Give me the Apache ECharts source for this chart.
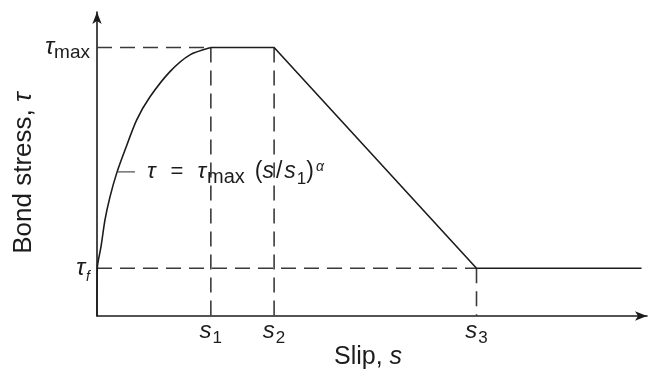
<!DOCTYPE html>
<html>
<head>
<meta charset="utf-8">
<script src="https://cdn.jsdelivr.net/npm/echarts@6/dist/echarts.min.js"></script>
<style>
  html, body { margin: 0; padding: 0; background: #fff; }
  #chart { width: 648px; height: 371px; }
</style>
</head>
<body>
<div id="chart"></div>
<script>
// Characteristic slip values (arbitrary slip units) and bond stresses
const slipPoints = { s1: 20.7, s2: 32.2, s3: 69.0 };
const slipEnd = 99;
const tauMax = 88.3;
const tauF = 15.7;

// Ascending branch tau = tau_max (s/s1)^alpha, sampled along the curve
const ascendingS   = [0, 0.05, 0.73, 1.45, 2.36, 3.58, 5.09, 7.22, 9.64, 13.27, 16.9, 20.7];
const ascendingTau = [0, 15.7, 22.8, 31.6, 39.2, 47.0, 54.6, 64.5, 72.1, 80.4, 85.9, 88.3];

// Plateau, softening branch and residual friction branch
const branchS   = [slipPoints.s1, slipPoints.s2, slipPoints.s3, slipEnd];
const branchTau = [tauMax, tauMax, tauF, tauF];

// Tick labels
const xTickValues = [slipPoints.s1, slipPoints.s2, slipPoints.s3];
const xTickLabels = ['{i|s}{sub|1}', '{i|s}{sub|2}', '{i|s}{sub|3}'];
const yTickValues = [tauF, tauMax];
const yTickLabels = ['{t|τ}{f|f}', '{t|τ}{m|max}'];

// Leader line to the formula
const leaderS = [3.8, 6.9];
const leaderTau = [47.4, 47.4];

const FONT = '"Liberation Sans", Arial, Helvetica, sans-serif';
const INK = '#1c1c1c';
const DASH = '#3a3a3a';

const zip = (a, b) => a.map((v, i) => [v, b[i]]);

// Dashed guide lines
const guides = [
  [[0, tauMax], [slipPoints.s1, tauMax]],
  [[slipPoints.s1, tauMax], [slipPoints.s1, 0]],
  [[slipPoints.s2, tauMax], [slipPoints.s2, 0]],
  [[0, tauF], [slipPoints.s3, tauF]],
  [[slipPoints.s3, tauF], [slipPoints.s3, 0]]
];

const chart = echarts.init(document.getElementById('chart'), null, { renderer: 'canvas' });

const series = [];
guides.forEach(g => series.push({
  type: 'line', data: g, symbol: 'none', silent: true, z: 2,
  lineStyle: { color: DASH, width: 1.6, type: [15, 8] }
}));
series.push({
  type: 'line', data: zip(ascendingS, ascendingTau), symbol: 'none',
  smooth: 0.25, z: 3,
  lineStyle: { color: INK, width: 1.6 }
});
series.push({
  type: 'line', data: zip(branchS, branchTau), symbol: 'none', z: 3,
  lineStyle: { color: INK, width: 1.6 }
});
series.push({
  type: 'line', data: zip(leaderS, leaderTau), symbol: 'none', z: 3,
  lineStyle: { color: '#555', width: 1.2 },
  endLabel: {
    show: true, distance: 12,
    formatter: '{t|τ}{e|=}{u|τ}{m|max}{p|(}{i|s}{q|/}{i|s}{s|1}{p|)}{a|α}',
    rich: {
      t: { fontFamily: FONT, fontStyle: 'italic', fontSize: 23, color: INK, verticalAlign: 'bottom', padding: [0, 15, 0, 0] },
      u: { fontFamily: FONT, fontStyle: 'italic', fontSize: 23, color: INK, verticalAlign: 'bottom' },
      e: { fontFamily: FONT, fontSize: 22, color: INK, verticalAlign: 'bottom', padding: [0, 14, 0, 0] },
      m: { fontFamily: FONT, fontSize: 20, color: INK, verticalAlign: 'bottom', padding: [0, 10, -4, 1] },
      p: { fontFamily: FONT, fontSize: 23, color: INK, verticalAlign: 'bottom' },
      q: { fontFamily: FONT, fontSize: 23, color: INK, verticalAlign: 'bottom', padding: [0, 2, 0, 2] },
      i: { fontFamily: FONT, fontStyle: 'italic', fontSize: 23, color: INK, verticalAlign: 'bottom' },
      s: { fontFamily: FONT, fontSize: 17, color: INK, verticalAlign: 'bottom', padding: [0, 0, -4, 1] },
      a: { fontFamily: FONT, fontStyle: 'italic', fontSize: 14, color: INK, verticalAlign: 'top', padding: [0, 0, 0, 2] }
    }
  }
});

chart.setOption({
  animation: false,
  backgroundColor: '#fff',
  grid: { left: 97, right: 1, top: 12, bottom: 55, containLabel: false, outerBoundsMode: 'none' },
  xAxis: {
    type: 'value', min: 0, max: 100,
    splitLine: { show: false },
    axisTick: { show: false },
    axisLine: { show: true, onZero: false, symbol: ['none', 'arrow'], symbolSize: [7, 12],
      lineStyle: { color: INK, width: 1.6 } },
    axisLabel: {
      customValues: xTickValues, margin: 3,
      formatter: v => xTickLabels[xTickValues.indexOf(v)],
      rich: {
        i: { fontFamily: FONT, fontStyle: 'italic', fontSize: 24, color: INK, verticalAlign: 'bottom' },
        sub: { fontFamily: FONT, fontSize: 17, color: INK, verticalAlign: 'bottom', padding: [0, 0, -4, 1] }
      }
    },
    name: '{n|Slip, }{i|s}', nameLocation: 'middle', nameGap: 29, nameMoveOverlap: false,
    nameTextStyle: {
      padding: [0, 8, 0, 0],
      rich: {
        n: { fontFamily: FONT, fontSize: 25, color: INK },
        i: { fontFamily: FONT, fontStyle: 'italic', fontSize: 25, color: INK }
      }
    }
  },
  yAxis: {
    type: 'value', min: 0, max: 100,
    splitLine: { show: false },
    axisTick: { show: false },
    axisLine: { show: true, onZero: false, symbol: ['none', 'arrow'], symbolSize: [7, 12],
      lineStyle: { color: INK, width: 1.6 } },
    axisLabel: {
      customValues: yTickValues, margin: 7,
      formatter: v => yTickLabels[yTickValues.indexOf(v)],
      rich: {
        t: { fontFamily: FONT, fontStyle: 'italic', fontSize: 24, color: INK, verticalAlign: 'bottom' },
        m: { fontFamily: FONT, fontSize: 19, color: INK, verticalAlign: 'bottom', padding: [0, 0, -3, 0] },
        f: { fontFamily: FONT, fontStyle: 'italic', fontSize: 14, color: INK, verticalAlign: 'bottom', padding: [0, 0, -4, 1] }
      }
    },
    name: '{n|Bond stress, }{i|τ}', nameLocation: 'middle', nameGap: 60, nameRotate: 90, nameMoveOverlap: false,
    nameTextStyle: {
      padding: [0, 18, 0, 0],
      rich: {
        n: { fontFamily: FONT, fontSize: 26, color: INK },
        i: { fontFamily: FONT, fontStyle: 'italic', fontSize: 26, color: INK }
      }
    }
  },
  series: series
});
</script>
</body>
</html>
